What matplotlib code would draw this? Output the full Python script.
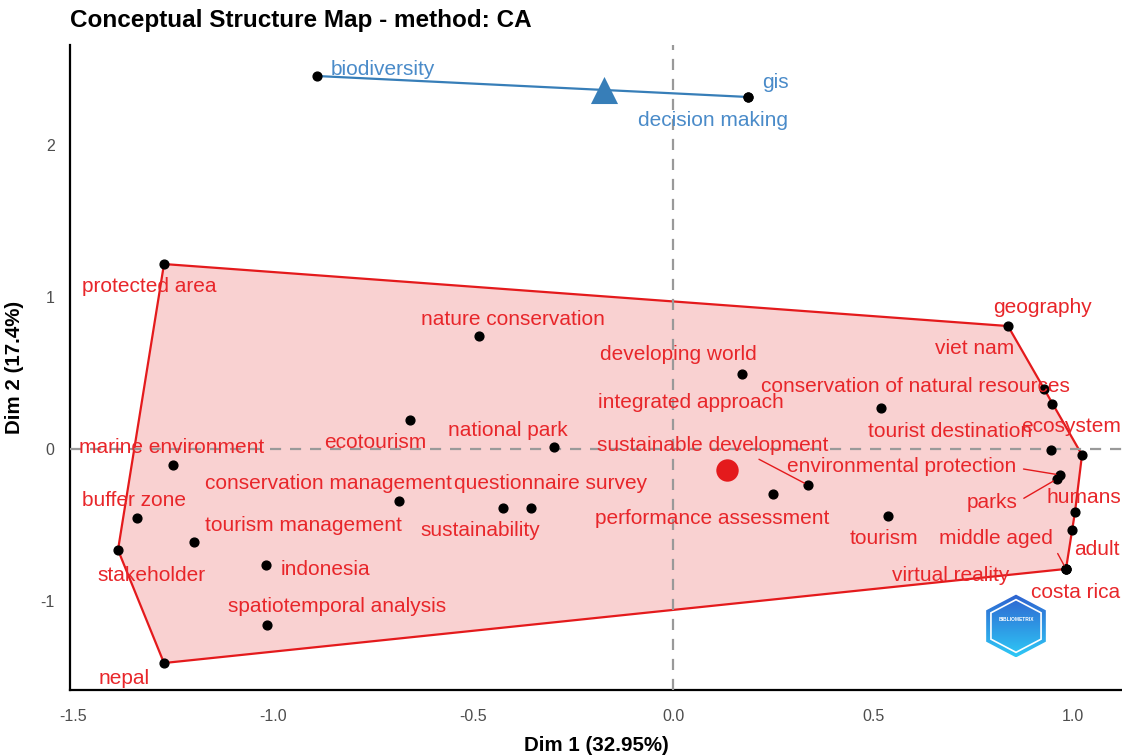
import numpy as np
import matplotlib.pyplot as plt
from matplotlib.patches import Polygon

plt.rcParams['font.family'] = ['Liberation Sans', 'DejaVu Sans']

# cluster 1 (red)
words_1 = ["protected area", "nature conservation", "developing world", "integrated approach",
           "geography", "viet nam", "conservation of natural resources", "tourist destination",
           "ecosystem", "national park", "ecotourism", "marine environment",
           "sustainable development", "environmental protection", "parks",
           "conservation management", "questionnaire survey", "sustainability", "buffer zone",
           "humans", "tourism management", "performance assessment", "tourism", "middle aged",
           "adult", "indonesia", "stakeholder", "virtual reality", "costa rica",
           "spatiotemporal analysis", "nepal"]
dim1_1 = [-1.2725, -0.485, 0.1725, 0.52, 0.8375, 0.9275, 0.9475, 0.945, 1.0225, -0.2975,
          -0.6575, -1.25, 0.3375, 0.9675, 0.96, -0.685, -0.425, -0.355, -1.34, 1.005,
          -1.1975, 0.25, 0.5375, 0.9825, 0.9975, -1.0175, -1.3875, 0.9825, 0.9825,
          -1.015, -1.2725]
dim2_1 = [1.217, 0.743, 0.493, 0.270, 0.809, 0.395, 0.296, -0.007, -0.039, 0.013,
          0.191, -0.105, -0.237, -0.171, -0.197, -0.342, -0.388, -0.388, -0.454, -0.414,
          -0.612, -0.296, -0.441, -0.789, -0.533, -0.763, -0.664, -0.789, -0.789,
          -1.158, -1.408]
# where the repelled labels ended up
lab_x_1 = [-1.31, -0.40, 0.0125, 0.045, 0.9225, 0.755, 0.605, 0.6925, 0.995, -0.4125,
           -0.745, -1.2525, 0.10, 0.5725, 0.7975, -0.8625, -0.305, -0.4825, -1.3475, 1.0275,
           -0.925, 0.0975, 0.5275, 0.8075, 1.06, -0.87, -1.3025, 0.695, 1.0075,
           -0.84, -1.3725]
lab_y_1 = [1.066, 0.855, 0.625, 0.303, 0.934, 0.658, 0.414, 0.118, 0.145, 0.125,
           0.046, 0.007, 0.026, -0.118, -0.355, -0.23, -0.224, -0.533, -0.336, -0.316,
           -0.50, -0.454, -0.592, -0.592, -0.658, -0.796, -0.829, -0.829, -0.941,
           -1.033, -1.507]
# labels joined to their point by a segment, with the segment's start on the label box
linked_1 = {"sustainable development": (0.66, 0.0),
            "environmental protection": (1.0, 0.45),
            "parks": (1.0, 0.55),
            "middle aged": (1.0, 0.2)}

# cluster 2 (blue)
words_2 = ["biodiversity", "gis", "decision making"]
dim1_2 = [-0.89, 0.1875, 0.1875]
dim2_2 = [2.454, 2.316, 2.316]
lab_x_2 = [-0.725, 0.255, 0.10]
lab_y_2 = [2.50, 2.408, 2.158]

centroid_x = [0.135, -0.172]
centroid_y = [-0.138, 2.362]

FS = 15


def convex_hull(xs, ys):
    pts = sorted(set(zip(xs, ys)))
    if len(pts) < 3:
        return pts

    def cross(o, a, b):
        return (a[0] - o[0]) * (b[1] - o[1]) - (a[1] - o[1]) * (b[0] - o[0])

    lower, upper = [], []
    for p in pts:
        while len(lower) >= 2 and cross(lower[-2], lower[-1], p) <= 0:
            lower.pop()
        lower.append(p)
    for p in reversed(pts):
        while len(upper) >= 2 and cross(upper[-2], upper[-1], p) <= 0:
            upper.pop()
        upper.append(p)
    return lower[:-1] + upper[:-1]


fig = plt.figure(figsize=(11.22, 7.55), dpi=100)
ax = fig.add_axes([70 / 1122, 65 / 755, 1052 / 1122, 645 / 755])

clusters = [
    (words_1, dim1_1, dim2_1, lab_x_1, lab_y_1, '#E41A1C', '#E8262A', 'o', 260),
    (words_2, dim1_2, dim2_2, lab_x_2, lab_y_2, '#377EB8', '#4A8BC9', '^', 380),
]

for k, (words, xs, ys, lx, ly, col, tcol, mk, ms) in enumerate(clusters):
    hull = convex_hull(xs, ys)
    ax.add_patch(Polygon(hull, closed=True, facecolor=col, alpha=0.2, edgecolor='none', zorder=1))
    ax.add_patch(Polygon(hull, closed=True, fill=False, edgecolor=col, lw=1.6, zorder=2))
    ax.scatter(xs, ys, s=40, color='black', zorder=4)
    ax.scatter([centroid_x[k]], [centroid_y[k]], s=ms, marker=mk, color=col, zorder=4,
               linewidths=0)
    for w, x, y, tx, ty in zip(words, xs, ys, lx, ly):
        if w in linked_1:
            ax.annotate(w, xy=(x, y), xytext=(tx, ty), ha='center', va='center',
                        fontsize=FS, color=tcol, zorder=5,
                        arrowprops=dict(arrowstyle='-', color=col, lw=1.0,
                                        relpos=linked_1[w], shrinkA=3, shrinkB=3))
        else:
            ax.text(tx, ty, w, ha='center', va='center', fontsize=FS, color=tcol, zorder=5)

ax.axhline(0, color='#999999', lw=1.6, ls=(0, (5, 4)), zorder=3)
ax.axvline(0, color='#999999', lw=1.6, ls=(0, (5, 4)), zorder=3)

ax.set_xlim(-1.5075, 1.1225)
ax.set_ylim(-1.5855, 2.658)

xt = [-1.5, -1.0, -0.5, 0.0, 0.5, 1.0]
yt = [-1, 0, 1, 2]
ax.set_xticks(xt)
ax.set_xticklabels(['%.1f' % v for v in xt])
ax.set_yticks(yt)
ax.set_yticklabels(['%d' % v for v in yt])
ax.tick_params(length=0, labelsize=11.5, labelcolor='#4D4D4D')
ax.tick_params(axis='x', pad=14)
ax.tick_params(axis='y', pad=11)

for side in ['top', 'right']:
    ax.spines[side].set_visible(False)
for side in ['left', 'bottom']:
    ax.spines[side].set_linewidth(1.6)
    ax.spines[side].set_color('black')

ax.set_xlabel('Dim 1 (32.95%)', fontsize=14.8, fontweight='bold', labelpad=8)
ax.set_ylabel('Dim 2 (17.4%)', fontsize=14.8, fontweight='bold', labelpad=12)
fig.text(70 / 1122, 1 - 20 / 755, 'Conceptual Structure Map - method: CA',
         fontsize=17.5, fontweight='bold', ha='left', va='center')

# small hexagon badge in the lower right
lg = fig.add_axes([985 / 1122, 97 / 755, 62 / 1122, 64 / 755])
ang = np.deg2rad(90 + 60 * np.arange(6))
hx, hy = np.cos(ang), np.sin(ang)
outer = Polygon(np.c_[hx, hy], closed=True, facecolor='none', edgecolor='none')
lg.add_patch(outer)
grad = np.linspace(0, 1, 64).reshape(-1, 1)
img = lg.imshow(grad, extent=(-1, 1, -1, 1), origin='upper', aspect='auto',
                cmap=plt.matplotlib.colors.LinearSegmentedColormap.from_list(
                    'badge', ['#2E63D0', '#2FC8F6']))
img.set_clip_path(outer)
lg.add_patch(Polygon(np.c_[hx, hy] * 0.84, closed=True, fill=False, edgecolor='white', lw=1.2))
lg.text(0, 0.2, 'BIBLIOMETRIX', ha='center', va='center', fontsize=3.5, color='white',
        fontweight='bold')
lg.set_xlim(-0.9, 0.9)
lg.set_ylim(-1.02, 1.02)
lg.axis('off')

fig.savefig('out.png', dpi=100)
